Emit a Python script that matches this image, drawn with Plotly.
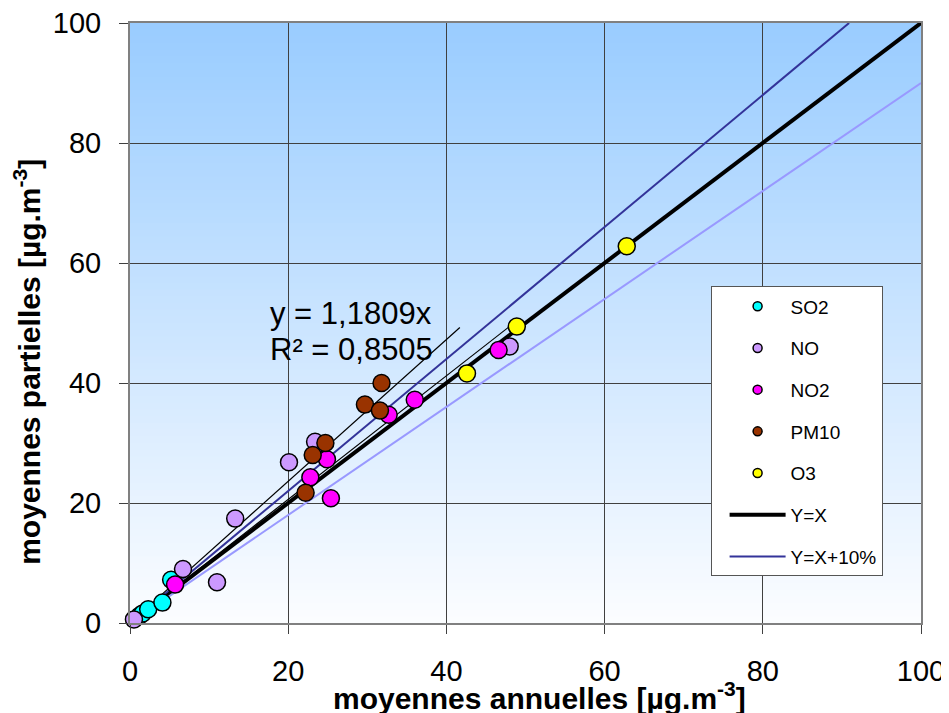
import plotly.graph_objects as go

# ---- data ----
so2_x = [1.2, 1.6, 2.3, 4.1, 5.2]
so2_y = [1.2, 1.6, 2.3, 3.4, 7.2]
no_x = [0.5, 6.7, 11.0, 13.3, 20.1, 23.4, 48.0]
no_y = [0.6, 9.0, 6.8, 17.4, 26.8, 30.2, 46.1]
no2_x = [5.7, 22.8, 24.9, 25.4, 32.7, 36.0, 46.6]
no2_y = [6.4, 24.3, 27.3, 20.8, 34.7, 37.2, 45.5]
pm10_x = [22.2, 23.1, 24.7, 29.7, 31.6, 31.8]
pm10_y = [21.7, 28.0, 30.0, 36.4, 35.4, 40.0]
o3_x = [42.6, 48.9, 62.8]
o3_y = [41.6, 49.4, 62.8]

series_names = ["SO2", "NO", "NO2", "PM10", "O3"]
series_x = [so2_x, no_x, no2_x, pm10_x, o3_x]
series_y = [so2_y, no_y, no2_y, pm10_y, o3_y]
series_colors = ["#00FFFF", "#CC99FF", "#FF00FF", "#993300", "#FFFF00"]

# reference lines y = f * x
ref_names = ["Y=X", "Y=X+10%", "Y=X-10%"]
ref_factors = [1.0, 1.1, 0.9]

# trend lines through origin (slope, x start, x end)
trend_slopes = [1.1809, 1.03]
trend_x_start = [1.0, 0.5]
trend_x_end = [41.7, 48.0]
trend_equation = "y = 1,1809x"
trend_r2 = "R² = 0,8505"

x_ticks = [0, 20, 40, 60, 80, 100]
y_ticks = [0, 20, 40, 60, 80, 100]
axis_max = 100

FONT = "Liberation Sans, Arial, sans-serif"

fig = go.Figure()

# gradient background (styling)
N = 90
top = (153, 204, 255)
bot = (252, 253, 255)
shapes = []
for i in range(N):
    t = (i + 0.5) / N
    c = tuple(int(round(bot[k] + (top[k] - bot[k]) * t)) for k in range(3))
    shapes.append(dict(type="rect", xref="x domain", yref="y domain",
                       x0=0, x1=1, y0=i / N, y1=min(1.0, (i + 1) / N + 0.002),
                       fillcolor="rgb(%d,%d,%d)" % c, line=dict(width=0),
                       layer="below"))

# reference lines
ref_styles = [dict(color="black", width=4),
              dict(color="#333399", width=2),
              dict(color="#9999FF", width=2)]
ref_show = [True, True, False]
for name, f, st, sh in zip(ref_names, ref_factors, ref_styles, ref_show):
    xe = min(axis_max, axis_max / f)
    fig.add_trace(go.Scatter(x=[0, xe], y=[0, f * xe], mode="lines",
                             line=st, name=name, showlegend=False,
                             legendgroup=name, hoverinfo="skip"))

# trend lines
for s, x0, x1 in zip(trend_slopes, trend_x_start, trend_x_end):
    fig.add_trace(go.Scatter(x=[x0, x1], y=[s * x0, s * x1], mode="lines",
                             line=dict(color="black", width=1.2),
                             showlegend=False, hoverinfo="skip"))

# data points
for name, xs, ys, col in zip(series_names, series_x, series_y, series_colors):
    fig.add_trace(go.Scatter(x=xs, y=ys, mode="markers", name=name,
                             legendgroup=name, showlegend=False,
                             cliponaxis=False,
                             marker=dict(size=17, color=col,
                                         line=dict(color="black", width=1.5))))

# legend entries
for name, col in zip(series_names, series_colors):
    fig.add_trace(go.Scatter(x=[None], y=[None], mode="markers", name=name,
                             legendgroup=name, showlegend=True,
                             marker=dict(size=9, color=col,
                                         line=dict(color="black", width=1.5))))
for name, st, sh in zip(ref_names, ref_styles, ref_show):
    if sh:
        fig.add_trace(go.Scatter(x=[None], y=[None], mode="lines", name=name,
                                 legendgroup=name, showlegend=True, line=st))

annotations = [
    dict(x=17.4, y=51.6, xref="x", yref="y", text=trend_equation,
         showarrow=False, xanchor="left", yanchor="middle",
         font=dict(family=FONT, size=31, color="black")),
    dict(x=17.4, y=45.6, xref="x", yref="y", text=trend_r2,
         showarrow=False, xanchor="left", yanchor="middle",
         font=dict(family=FONT, size=31, color="black")),
    dict(x=0.518, y=-0.122, xref="paper", yref="paper",
         text="<b>moyennes annuelles [µg.m<sup>-3</sup>]</b>",
         showarrow=False, xanchor="center", yanchor="middle",
         font=dict(family=FONT, size=30, color="black")),
    dict(x=-0.130, y=0.4355, xref="paper", yref="paper", textangle=-90,
         text="<b>moyennes partielles [µg.m<sup>-3</sup>]</b>",
         showarrow=False, xanchor="center", yanchor="middle",
         font=dict(family=FONT, size=30, color="black")),
]

axis_common = dict(range=[0, axis_max], showgrid=True, gridcolor="#404040",
                   gridwidth=1, showline=True, linecolor="#808080",
                   linewidth=2, mirror=True, ticks="outside", ticklen=9,
                   tickcolor="#404040", tickwidth=1, automargin=False,
                   ticklabeloverflow="allow",
                   tickfont=dict(family=FONT, size=29, color="black"),
                   zeroline=False, fixedrange=True)

fig.update_layout(
    width=949, height=713,
    margin=dict(l=122, r=36, t=15, b=98, autoexpand=False),
    paper_bgcolor="white", plot_bgcolor="white",
    shapes=shapes, annotations=annotations,
    xaxis=dict(axis_common, tickvals=x_ticks, ticklabelstandoff=12),
    yaxis=dict(axis_common, tickvals=y_ticks, ticklabelstandoff=12),
    showlegend=True,
    legend=dict(x=0.734, y=0.561, xanchor="left", yanchor="top",
                bgcolor="white", bordercolor="#555555", borderwidth=1,
                font=dict(family=FONT, size=19, color="black"),
                tracegroupgap=14, itemwidth=56, indentation=13,
                traceorder="grouped"),
)

fig.write_html("out.html")
